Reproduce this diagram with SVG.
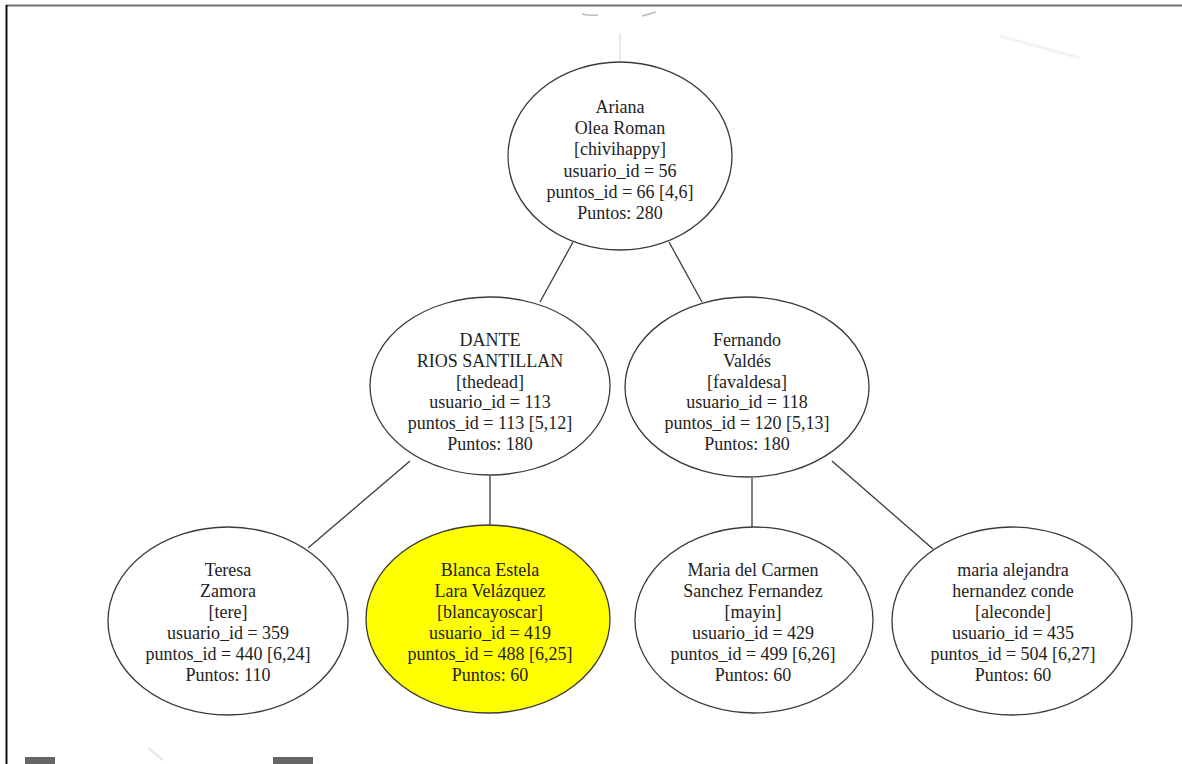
<svg xmlns="http://www.w3.org/2000/svg" width="1182" height="764" viewBox="0 0 1182 764">
<style>
.node ellipse{fill:#ffffff;stroke:#3a3a3a;stroke-width:1.3}
.node.hl ellipse{fill:#ffff00}
.node text{font-family:"Liberation Serif","Times New Roman",serif;font-size:18px;fill:#222;text-anchor:middle}
.edges line{stroke:#3a3a3a;stroke-width:1.3}
.ghost{stroke:#bbb;stroke-width:1.5;fill:none}
</style>
<rect x="0" y="0" width="1182" height="764" fill="#ffffff"/>
<line x1="6" y1="5.5" x2="1182" y2="5.5" stroke="#707070" stroke-width="2"/>
<line x1="6.5" y1="5" x2="6.5" y2="764" stroke="#111" stroke-width="2"/>
<g id="artifacts">
<line x1="620" y1="33" x2="620" y2="60" stroke="#e2e2e2" stroke-width="1.5"/>
<path class="ghost" d="M582 14 Q590 16 598 15"/>
<path class="ghost" d="M642 16 Q650 14 656 12"/>
<path d="M1000 36 L1080 58" stroke="#f3f3f3" stroke-width="3" fill="none"/>
<rect x="25" y="757" width="30" height="7" fill="#666"/>
<rect x="273" y="757" width="40" height="7" fill="#666"/>
<line x1="148" y1="748" x2="163" y2="760" stroke="#e6e6e6" stroke-width="2"/>
</g>
<g class="edges" id="edges">
<line x1="573" y1="242" x2="540" y2="302"/>
<line x1="669" y1="242" x2="702" y2="302"/>
<line x1="410" y1="461" x2="308" y2="548"/>
<line x1="490" y1="476" x2="490" y2="525"/>
<line x1="752" y1="478" x2="752" y2="527"/>
<line x1="832" y1="461" x2="933" y2="549"/>
</g>
<g class="node" id="n_ariana">
<ellipse cx="620" cy="156" rx="112" ry="94"/>
<text x="620" y="113">Ariana<tspan x="620" dy="21.2">Olea Roman</tspan><tspan x="620" dy="21.2">[chivihappy]</tspan><tspan x="620" dy="21.2">usuario_id = 56</tspan><tspan x="620" dy="21.2">puntos_id = 66 [4,6]</tspan><tspan x="620" dy="21.2">Puntos: 280</tspan></text>
</g>
<g class="node" id="n_dante">
<ellipse cx="490" cy="386" rx="120" ry="89"/>
<text x="490" y="346">DANTE<tspan x="490" dy="20.8">RIOS SANTILLAN</tspan><tspan x="490" dy="20.8">[thedead]</tspan><tspan x="490" dy="20.8">usuario_id = 113</tspan><tspan x="490" dy="20.8">puntos_id = 113 [5,12]</tspan><tspan x="490" dy="20.8">Puntos: 180</tspan></text>
</g>
<g class="node" id="n_fernando">
<ellipse cx="747" cy="387" rx="122" ry="90"/>
<text x="747" y="346">Fernando<tspan x="747" dy="20.8">Valdés</tspan><tspan x="747" dy="20.8">[favaldesa]</tspan><tspan x="747" dy="20.8">usuario_id = 118</tspan><tspan x="747" dy="20.8">puntos_id = 120 [5,13]</tspan><tspan x="747" dy="20.8">Puntos: 180</tspan></text>
</g>
<g class="node" id="n_teresa">
<ellipse cx="228" cy="621" rx="120" ry="94"/>
<text x="228" y="576">Teresa<tspan x="228" dy="21">Zamora</tspan><tspan x="228" dy="21">[tere]</tspan><tspan x="228" dy="21">usuario_id = 359</tspan><tspan x="228" dy="21">puntos_id = 440 [6,24]</tspan><tspan x="228" dy="21">Puntos: 110</tspan></text>
</g>
<g class="node hl" id="n_blanca">
<ellipse cx="488" cy="619" rx="122" ry="94"/>
<text x="490" y="576">Blanca Estela<tspan x="490" dy="21">Lara Velázquez</tspan><tspan x="490" dy="21">[blancayoscar]</tspan><tspan x="490" dy="21">usuario_id = 419</tspan><tspan x="490" dy="21">puntos_id = 488 [6,25]</tspan><tspan x="490" dy="21">Puntos: 60</tspan></text>
</g>
<g class="node" id="n_mariacarmen">
<ellipse cx="754" cy="620" rx="119" ry="93"/>
<text x="753" y="576">Maria del Carmen<tspan x="753" dy="21">Sanchez Fernandez</tspan><tspan x="753" dy="21">[mayin]</tspan><tspan x="753" dy="21">usuario_id = 429</tspan><tspan x="753" dy="21">puntos_id = 499 [6,26]</tspan><tspan x="753" dy="21">Puntos: 60</tspan></text>
</g>
<g class="node" id="n_mariaalejandra">
<ellipse cx="1012" cy="621" rx="120" ry="94"/>
<text x="1013" y="576">maria alejandra<tspan x="1013" dy="21">hernandez conde</tspan><tspan x="1013" dy="21">[aleconde]</tspan><tspan x="1013" dy="21">usuario_id = 435</tspan><tspan x="1013" dy="21">puntos_id = 504 [6,27]</tspan><tspan x="1013" dy="21">Puntos: 60</tspan></text>
</g>
</svg>
